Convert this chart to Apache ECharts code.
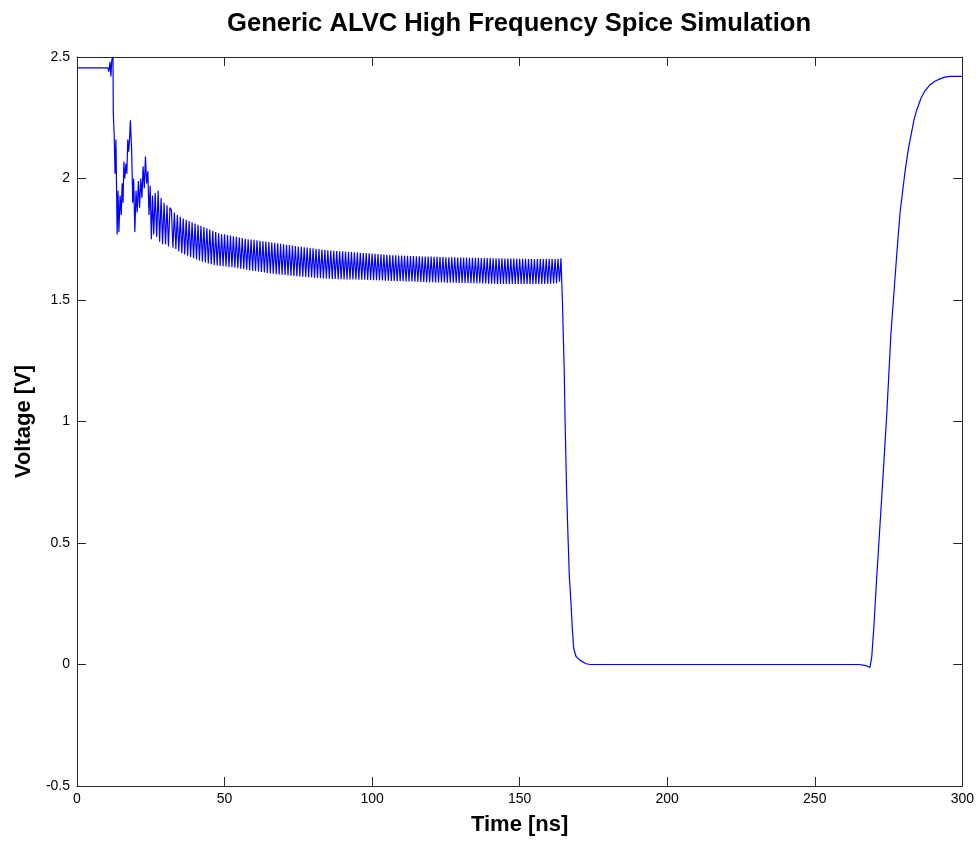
<!DOCTYPE html>
<html>
<head>
<meta charset="utf-8">
<script src="https://cdn.jsdelivr.net/npm/echarts@6/dist/echarts.min.js"></script>
<style>
html,body{margin:0;padding:0;background:#fff;}
#chart{width:977px;height:841px;}
</style>
</head>
<body>
<div id="chart"></div>
<script>
const titleText = 'Generic ALVC High Frequency Spice Simulation';
const xName = 'Time [ns]';
const yName = 'Voltage [V]';
const xTicks = [0, 50, 100, 150, 200, 250, 300];
const yTicks = [-0.5, 0, 0.5, 1, 1.5, 2, 2.5];

// Initial steady level and start-up transient [time ns, voltage V]
const startup = [[0, 2.455], [10.5, 2.455], [10.8, 2.44], [11.2, 2.48], [11.5, 2.42], [11.8, 2.49], [12.2, 2.50], [12.3, 2.27],
  [12.6, 2.18], [12.9, 2.02], [13.2, 2.16], [13.6, 1.77], [13.9, 1.95], [14.2, 1.78], [14.6, 1.93], [15.0, 1.85], [15.3, 1.98],
  [15.6, 1.90], [15.9, 2.07], [16.2, 2.00], [16.6, 2.06], [16.9, 2.02], [17.2, 2.16], [17.5, 2.11], [17.8, 2.16], [18.1, 2.24],
  [18.5, 2.12], [18.9, 1.90], [19.2, 2.00], [19.6, 1.78], [20.0, 1.95], [20.4, 1.86], [20.8, 1.99], [21.2, 1.88], [21.6, 2.00],
  [22.0, 1.92], [22.4, 2.05], [22.8, 1.96], [23.2, 2.09], [23.6, 1.98], [24.0, 2.03], [24.4, 1.85], [24.8, 1.97], [25.2, 1.75],
  [25.6, 1.93], [26.0, 1.77], [26.5, 1.94], [27.0, 1.76], [27.5, 1.95], [28.0, 1.74], [28.5, 1.92], [29.0, 1.73], [29.5, 1.90],
  [30.0, 1.73], [30.5, 1.89], [31.0, 1.72], [31.5, 1.88]];

// Steady ringing: upper swings
const ringHigh = [[32, 1.87], [33, 1.86], [34, 1.85], [35, 1.842], [36, 1.835], [37, 1.83], [38, 1.825], [39, 1.82], [40, 1.815],
  [41, 1.81], [42, 1.805], [43, 1.80], [44, 1.795], [45, 1.79], [46, 1.785], [47, 1.78], [48, 1.775], [49, 1.772], [50, 1.77],
  [51, 1.767], [52, 1.765], [53, 1.762], [54, 1.76], [55, 1.757], [56, 1.755], [57, 1.752], [58, 1.75], [59, 1.749], [60, 1.748],
  [61, 1.746], [62, 1.744], [63, 1.742], [64, 1.741], [65, 1.739], [66, 1.737], [67, 1.735], [68, 1.733], [69, 1.731], [70, 1.729],
  [71, 1.727], [72, 1.726], [73, 1.724], [74, 1.722], [75, 1.72], [76, 1.719], [77, 1.717], [78, 1.716], [79, 1.714], [80, 1.713],
  [81, 1.711], [82, 1.71], [83, 1.708], [84, 1.707], [85, 1.705], [86, 1.704], [87, 1.703], [88, 1.702], [89, 1.701], [90, 1.70],
  [91, 1.699], [92, 1.698], [93, 1.697], [94, 1.696], [95, 1.695], [96, 1.694], [97, 1.693], [98, 1.693], [99, 1.692], [100, 1.691],
  [101, 1.69], [102, 1.689], [103, 1.688], [104, 1.687], [105, 1.686], [106, 1.685], [107, 1.684], [108, 1.684], [109, 1.683], [110, 1.683],
  [111, 1.682], [112, 1.682], [113, 1.681], [114, 1.681], [115, 1.68], [116, 1.68], [117, 1.679], [118, 1.679], [119, 1.679], [120, 1.679],
  [121, 1.678], [122, 1.678], [123, 1.677], [124, 1.677], [125, 1.676], [126, 1.676], [127, 1.676], [128, 1.676], [129, 1.675], [130, 1.675],
  [131, 1.675], [132, 1.675], [133, 1.674], [134, 1.674], [135, 1.674], [136, 1.674], [137, 1.673], [138, 1.673], [139, 1.673], [140, 1.673],
  [141, 1.672], [142, 1.672], [143, 1.672], [144, 1.672], [145, 1.671], [146, 1.671], [147, 1.671], [148, 1.671], [149, 1.67], [150, 1.67],
  [151, 1.67], [152, 1.67], [153, 1.669], [154, 1.669], [155, 1.669], [156, 1.669], [157, 1.669], [158, 1.669], [159, 1.669], [160, 1.669],
  [161, 1.669], [162, 1.669], [163, 1.67], [164, 1.672]];

// Steady ringing: lower swings
const ringLow = [[32.5, 1.715], [33.5, 1.71], [34.5, 1.70], [35.5, 1.692], [36.5, 1.687], [37.5, 1.682], [38.5, 1.677], [39.5, 1.672],
  [40.5, 1.667], [41.5, 1.663], [42.5, 1.658], [43.5, 1.654], [44.5, 1.65], [45.5, 1.647], [46.5, 1.644], [47.5, 1.642], [48.5, 1.64],
  [49.5, 1.639], [50.5, 1.638], [51.5, 1.636], [52.5, 1.635], [53.5, 1.633], [54.5, 1.631], [55.5, 1.629], [56.5, 1.627], [57.5, 1.625],
  [58.5, 1.623], [59.5, 1.621], [60.5, 1.619], [61.5, 1.617], [62.5, 1.615], [63.5, 1.613], [64.5, 1.611], [65.5, 1.609], [66.5, 1.608],
  [67.5, 1.606], [68.5, 1.605], [69.5, 1.604], [70.5, 1.603], [71.5, 1.601], [72.5, 1.60], [73.5, 1.599], [74.5, 1.598], [75.5, 1.597],
  [76.5, 1.596], [77.5, 1.595], [78.5, 1.594], [79.5, 1.593], [80.5, 1.592], [81.5, 1.591], [82.5, 1.59], [83.5, 1.589], [84.5, 1.588],
  [85.5, 1.588], [86.5, 1.587], [87.5, 1.587], [88.5, 1.586], [89.5, 1.586], [90.5, 1.585], [91.5, 1.585], [92.5, 1.584], [93.5, 1.584],
  [94.5, 1.584], [95.5, 1.583], [96.5, 1.583], [97.5, 1.583], [98.5, 1.582], [99.5, 1.582], [100.5, 1.581], [101.5, 1.581], [102.5, 1.58],
  [103.5, 1.58], [104.5, 1.579], [105.5, 1.579], [106.5, 1.578], [107.5, 1.578], [108.5, 1.577], [109.5, 1.577], [110.5, 1.577], [111.5, 1.576],
  [112.5, 1.576], [113.5, 1.576], [114.5, 1.575], [115.5, 1.575], [116.5, 1.574], [117.5, 1.574], [118.5, 1.573], [119.5, 1.573], [120.5, 1.573],
  [121.5, 1.572], [122.5, 1.572], [123.5, 1.572], [124.5, 1.572], [125.5, 1.571], [126.5, 1.571], [127.5, 1.571], [128.5, 1.571], [129.5, 1.57],
  [130.5, 1.57], [131.5, 1.57], [132.5, 1.57], [133.5, 1.569], [134.5, 1.569], [135.5, 1.569], [136.5, 1.569], [137.5, 1.568], [138.5, 1.568],
  [139.5, 1.567], [140.5, 1.567], [141.5, 1.567], [142.5, 1.566], [143.5, 1.566], [144.5, 1.566], [145.5, 1.566], [146.5, 1.566], [147.5, 1.566],
  [148.5, 1.566], [149.5, 1.566], [150.5, 1.566], [151.5, 1.566], [152.5, 1.566], [153.5, 1.566], [154.5, 1.566], [155.5, 1.566], [156.5, 1.566],
  [157.5, 1.566], [158.5, 1.566], [159.5, 1.567], [160.5, 1.567], [161.5, 1.568], [162.5, 1.569], [163.5, 1.575]];

// Falling edge, low phase and recovery
const edges = [[164.2, 1.60], [164.5, 1.49], [165.1, 1.21], [165.4, 1.0], [165.9, 0.72], [166.4, 0.52], [166.8, 0.37], [167.4, 0.25],
  [167.8, 0.156], [168.3, 0.067], [169.1, 0.033], [170.3, 0.019], [172.5, 0.003], [174, 0],
  [265, 0], [267.5, -0.005], [268.7, -0.012], [269.3, 0.03], [270.0, 0.15], [271.0, 0.36], [272.7, 0.69], [274.4, 1.03],
  [275.8, 1.36], [277.8, 1.69], [278.9, 1.86], [280.6, 2.03], [281.7, 2.12], [282.8, 2.19], [283.6, 2.24], [284.5, 2.28],
  [286.0, 2.33], [287.3, 2.36], [289.0, 2.385], [290.7, 2.40], [292.4, 2.41], [294.1, 2.417], [296.0, 2.42], [300, 2.42]];

function buildData() {
  const ring = ringHigh.concat(ringLow).sort((a, b) => a[0] - b[0]);
  return startup.concat(ring, edges);
}

const axisColor = '#262626';
const font = '"Liberation Sans", Arial, sans-serif';

function frameAxis(extra) {
  return Object.assign({
    type: 'value',
    axisLine: {show: true, onZero: false, lineStyle: {color: axisColor, width: 1}},
    axisTick: {show: true, inside: true, length: 9, lineStyle: {color: axisColor}},
    splitLine: {show: false}
  }, extra);
}

const chart = echarts.init(document.getElementById('chart'), null, {renderer: 'canvas'});
chart.setOption({
  animation: false,
  backgroundColor: '#ffffff',
  title: {
    text: titleText,
    left: 514, top: 6, textAlign: 'center',
    textStyle: {fontFamily: font, fontWeight: 'bold', fontSize: 25.6, color: '#000'}
  },
  grid: {left: 77, right: 13, top: 57, bottom: 52, show: false},
  xAxis: [
    frameAxis({
      min: xTicks[0], max: xTicks[xTicks.length - 1], interval: 50, position: 'bottom',
      name: xName, nameLocation: 'middle', nameGap: 28,
      nameTextStyle: {fontFamily: font, fontWeight: 'bold', fontSize: 22, color: '#000'},
      axisLabel: {fontFamily: font, fontSize: 14, color: '#000', margin: 6}
    }),
    frameAxis({
      min: xTicks[0], max: xTicks[xTicks.length - 1], interval: 50, position: 'top',
      axisLabel: {show: false}
    })
  ],
  yAxis: [
    frameAxis({
      min: yTicks[0], max: yTicks[yTicks.length - 1], interval: 0.5, position: 'left',
      name: yName, nameLocation: 'middle', nameGap: 34, nameRotate: 90,
      nameTextStyle: {fontFamily: font, fontWeight: 'bold', fontSize: 22, color: '#000'},
      axisLabel: {fontFamily: font, fontSize: 14, color: '#000', margin: 7}
    }),
    frameAxis({
      min: yTicks[0], max: yTicks[yTicks.length - 1], interval: 0.5, position: 'right',
      axisLabel: {show: false}
    })
  ],
  series: [{
    type: 'line',
    xAxisIndex: 0, yAxisIndex: 0,
    data: buildData(),
    showSymbol: false,
    symbol: 'none',
    sampling: null,
    lineStyle: {color: '#0000ff', width: 1.2},
    itemStyle: {color: '#0000ff'}
  }]
});
</script>
</body>
</html>
